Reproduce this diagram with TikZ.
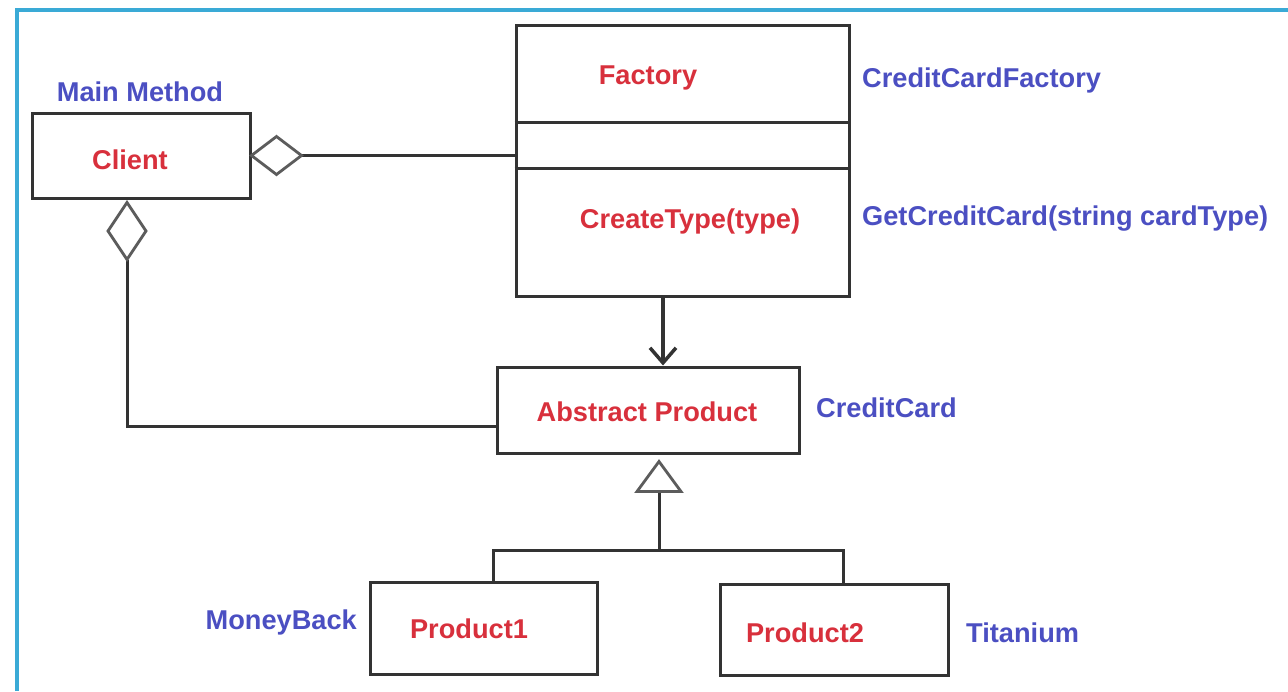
\documentclass[tikz,border=0pt]{standalone}
\usepackage{fontspec}
\setmainfont{Liberation Sans}
\usetikzlibrary{arrows.meta,calc}
\definecolor{redtxt}{HTML}{D8303C}
\definecolor{bluetxt}{HTML}{4B4FC2}
\definecolor{linec}{HTML}{333333}
\definecolor{framec}{HTML}{3AAAD6}
\begin{document}
\begin{tikzpicture}[x=1pt,y=-1pt,
  box/.style={draw=linec,line width=3pt,rectangle,inner sep=0pt},
  rtxt/.style={text=redtxt,font=\fontsize{27.2}{31}\selectfont\bfseries,inner sep=0pt},
  btxt/.style={text=bluetxt,font=\fontsize{27.2}{31}\selectfont\bfseries,inner sep=0pt},
  conn/.style={draw=linec,line width=3pt},
  agg/.style={draw=linec!80,line width=2.8pt,fill=white,line join=miter}]
\useasboundingbox (0,0) rectangle (1288,691);
\fill[white] (0,0) rectangle (1288,691);
\draw[framec,line width=3.5pt] (17,691) -- (17,10) -- (1288,10);

% boxes
\node[box,minimum width=218pt,minimum height=85pt] (client) at (141,155.5) {};
\node[box,minimum width=333pt,minimum height=271pt] (factory) at (682.5,160.5) {};
\node[box,minimum width=302pt,minimum height=86pt] (abs) at (648,410) {};
\node[box,minimum width=227pt,minimum height=92pt] (p1) at (483.5,628) {};
\node[box,minimum width=228pt,minimum height=91pt] (p2) at (834,629.5) {};
\draw[draw=linec,line width=3pt] ($(factory.north west)+(0,99)$) -- ($(factory.north east)+(0,99)$);
\draw[draw=linec,line width=3pt] ($(factory.north west)+(0,145)$) -- ($(factory.north east)+(0,145)$);

% texts
\node[btxt] (tmain) at (140,92) {Main Method};
\node[rtxt] (tclient) at (130,160) {Client};
\node[rtxt] (tfactory) at (648,78) {Factory};
\node[rtxt] (tcreate) at (690,221) {CreateType(type)};
\node[btxt,anchor=west] (tccf) at (862,80) {CreditCardFactory};
\node[btxt,anchor=west] (tget) at (862,219) {GetCreditCard(string cardType)};
\node[rtxt] (tabs) at (647,412) {Abstract Product};
\node[btxt,anchor=west] (tcc) at (816,408) {CreditCard};
\node[btxt,anchor=east] (tmb) at (357,622) {MoneyBack};
\node[rtxt] (tp1) at (469,629) {Product1};
\node[rtxt] (tp2) at (805,633) {Product2};
\node[btxt,anchor=west] (tti) at (966,633) {Titanium};

% aggregation: client -> factory
\coordinate (d1a) at ([yshift=0pt]client.east);
\coordinate (d1b) at ($(d1a)+(50,0)$);
\draw[conn] (d1b) -- (d1b -| factory.west);
\draw[agg] (d1a) -- ++(25,-19) -- (d1b) -- ++(-25,19) -- cycle;

% aggregation: client -> abstract product
\coordinate (d2a) at ($(client.south)+(-14,3)$);
\coordinate (d2b) at ($(d2a)+(0,57)$);
\draw[conn] (d2b) |- ([yshift=-16pt]abs.west);
\draw[agg] (d2a) -- ++(19,28.5) -- (d2b) -- ++(-19,-28.5) -- cycle;

% factory creates abstract product
\draw[conn,line width=3.5pt,-{Straight Barb[length=15pt,width=26pt,line width=3.5pt]}]
  ([xshift=-19.5pt]factory.south) -- ([xshift=-19.5pt]factory.south |- abs.north);

% generalization
\coordinate (tapex) at ([xshift=11pt,yshift=-7pt]abs.south);
\coordinate (tbase) at ($(tapex)+(0,30)$);
\coordinate (bus) at ($(tbase)+(0,59)$);
\draw[conn] (tbase) -- (bus);
\draw[conn] ([xshift=9.5pt]p1.north) |- (bus) -| ([xshift=9pt]p2.north);
\draw[agg] (tapex) -- ($(tbase)+(22,0)$) -- ($(tbase)+(-22,0)$) -- cycle;
\end{tikzpicture}
\end{document}
